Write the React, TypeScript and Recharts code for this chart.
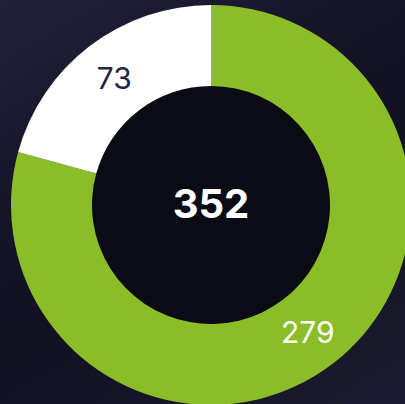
import React from 'react';
import { PieChart, Pie, Cell } from 'recharts';

const categories = ['Done', 'Open'];
const values = [279, 73];
const colors = ['#8bbd29', '#ffffff'];
const labelColors = ['#ffffff', '#24223d'];

const data = categories.map((name, i) => ({ name, value: values[i] }));
const total = values.reduce((a, b) => a + b, 0);
const centerData = [{ name: 'Total', value: total }];

const RAD = Math.PI / 180;

const renderLabel = (props: any) => {
  const { cx, cy, midAngle, innerRadius, outerRadius, index, value } = props;
  const r = (innerRadius + outerRadius) / 2;
  const x = cx + r * Math.cos(-midAngle * RAD);
  const y = cy + r * Math.sin(-midAngle * RAD);
  return (
    <text
      x={x}
      y={y}
      fill={labelColors[index]}
      textAnchor="middle"
      dominantBaseline="central"
      fontSize={30}
      fontFamily="Inter, Roboto, sans-serif"
    >
      {value}
    </text>
  );
};

// total in the middle of the hole
const renderCenter = (props: any) => (
  <text
    x={props.cx}
    y={props.cy - 2}
    fill="#ffffff"
    textAnchor="middle"
    dominantBaseline="central"
    fontSize={40}
    fontWeight={700}
    fontFamily="Inter, Roboto, sans-serif"
  >
    {props.value}
  </text>
);

export default function App() {
  return (
    <div
      style={{
        position: 'absolute',
        left: 0,
        top: 0,
        width: 405,
        height: 404,
        overflow: 'hidden',
        background:
          'linear-gradient(150deg, #24223b 0%, #16152a 30%, #121122 55%, #1b1a30 100%)',
      }}
    >
      <PieChart width={405} height={404} margin={{ top: 0, right: 0, bottom: 0, left: 0 }}>
        <Pie
          data={centerData}
          dataKey="value"
          cx={211}
          cy={205}
          innerRadius={0}
          outerRadius={120}
          fill="#0a0b14"
          stroke="none"
          labelLine={false}
          label={renderCenter}
          isAnimationActive={false}
        />
        <Pie
          data={data}
          dataKey="value"
          cx={211}
          cy={205}
          innerRadius={119}
          outerRadius={200}
          startAngle={90}
          endAngle={-270}
          stroke="none"
          labelLine={false}
          label={renderLabel}
          isAnimationActive={false}
        >
          {data.map((d, i) => (
            <Cell key={d.name} fill={colors[i]} />
          ))}
        </Pie>
      </PieChart>
    </div>
  );
}
